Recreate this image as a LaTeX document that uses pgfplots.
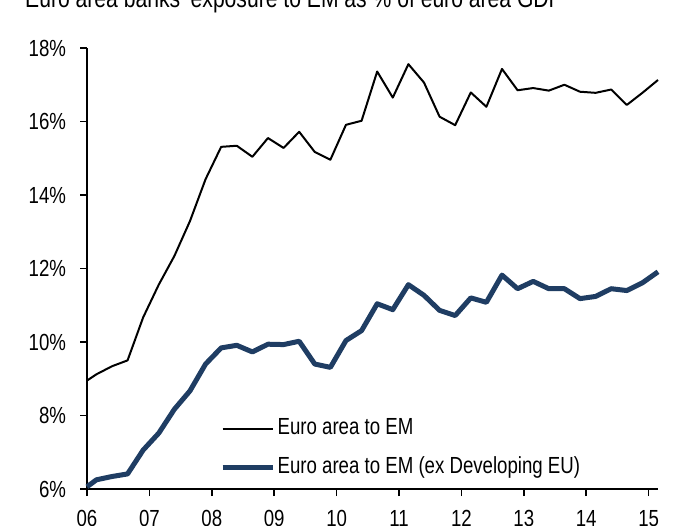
\documentclass[border=0pt]{standalone}
\usepackage{pgfplots}
\pgfplotsset{compat=1.18}
\usepackage{fontspec}
\setmainfont{Liberation Sans}[FakeStretch=0.8]
\definecolor{navy}{RGB}{31,61,99}
\pgfplotstableread{
x y
6.00 8.95
6.15 9.12
6.40 9.34
6.65 9.50
6.90 10.67
7.15 11.56
7.40 12.34
7.65 13.29
7.90 14.43
8.15 15.31
8.40 15.34
8.65 15.04
8.90 15.55
9.15 15.28
9.40 15.72
9.65 15.17
9.90 14.96
10.15 15.91
10.40 16.02
10.65 17.36
10.90 16.65
11.15 17.56
11.40 17.06
11.65 16.13
11.90 15.90
12.15 16.79
12.40 16.40
12.65 17.43
12.90 16.85
13.15 16.91
13.40 16.84
13.65 17.00
13.90 16.81
14.15 16.78
14.40 16.87
14.65 16.45
14.90 16.78
15.15 17.13
}\tothin
\pgfplotstableread{
x y
6.00 6.06
6.15 6.25
6.40 6.34
6.65 6.41
6.90 7.06
7.15 7.52
7.40 8.17
7.65 8.67
7.90 9.40
8.15 9.84
8.40 9.91
8.65 9.73
8.90 9.94
9.15 9.93
9.40 10.02
9.65 9.40
9.90 9.31
10.15 10.04
10.40 10.31
10.65 11.04
10.90 10.88
11.15 11.56
11.40 11.27
11.65 10.86
11.90 10.72
12.15 11.20
12.40 11.08
12.65 11.82
12.90 11.45
13.15 11.65
13.40 11.45
13.65 11.45
13.90 11.18
14.15 11.24
14.40 11.45
14.65 11.40
14.90 11.61
15.15 11.91
}\exdev
\begin{document}
\fontsize{23.3pt}{28pt}\selectfont
\begin{tikzpicture}
\useasboundingbox (0pt,0pt) rectangle (700pt,525pt);
\node[anchor=base west, inner sep=0pt, font=\fontsize{26.4pt}{30pt}\selectfont] at (25pt,517pt) {Euro area banks' exposure to EM as \% of euro area GDP};
\begin{axis}[
  at={(87pt,36pt)}, anchor=south west,
  scale only axis, width=571pt, height=441pt,
  xmin=6, xmax=15.15, ymin=6, ymax=18,
  axis x line*=bottom, axis y line*=left,
  axis line style={line width=1.5pt, black},
  every tick/.style={line width=1.5pt, black},
  tick align=outside, major tick length=7pt,
  xtick={6,7,8,9,10,11,12,13,14,15},
  xticklabels={06,07,08,09,10,11,12,13,14,15},
  ytick={6,8,10,12,14,16,18},
  yticklabels={6\%,8\%,10\%,12\%,14\%,16\%,18\%},
  /pgf/number format/assume math mode=true,
  xticklabel style={yshift=-6pt},
  yticklabel style={xshift=-6pt},
  clip=false,
  legend cell align=left,
  legend image code/.code={\draw[#1] (0pt,0pt) -- (50pt,0pt);},
  legend style={at={(axis cs:8.13,7.95)}, anchor=north west, draw=none, fill=none,
    inner sep=0pt, row sep=17pt,
    nodes={text height=17pt, text depth=5pt, inner ysep=0pt, inner xsep=2.5pt}},
]
\addplot[black, line width=2pt, line join=round] table[x=x,y=y] {\tothin};
\addlegendentry{Euro area to EM}
\addplot[navy, line width=5pt, line join=round] table[x=x,y=y] {\exdev};
\addlegendentry{Euro area to EM (ex Developing EU)}
\end{axis}
\end{tikzpicture}
\end{document}
